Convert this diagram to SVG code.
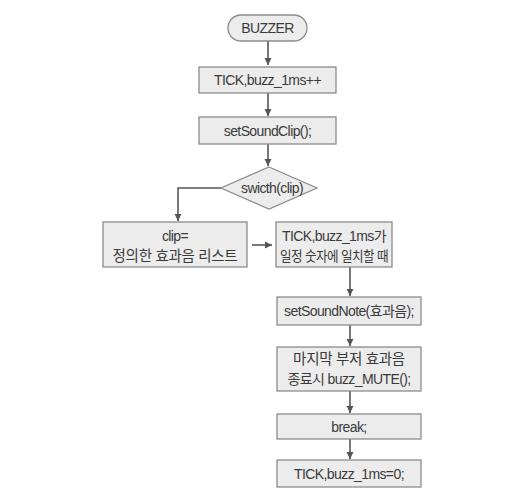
<svg xmlns="http://www.w3.org/2000/svg" width="507" height="500" viewBox="0 0 507 500">
<style>
.box{fill:#ececec;stroke:#8c8c8c;stroke-width:1.3}
.t{font-family:"Liberation Sans","Noto Sans CJK KR",sans-serif;font-size:14px;fill:#3a3a3a;text-anchor:middle;dominant-baseline:central;letter-spacing:-0.6px}
.k{font-size:14.5px;letter-spacing:-0.3px}
.ln{fill:none;stroke:#555;stroke-width:1.6}
</style>
<defs>
<marker id="ah" markerWidth="8" markerHeight="8" refX="7" refY="4" orient="auto" markerUnits="userSpaceOnUse">
<path d="M0,0.5 L7,4 L0,7.5 z" fill="#555"/>
</marker>
</defs>
<rect width="507" height="500" fill="#fff"/>
<g id="connectors">
<line class="ln" x1="268" y1="41" x2="268" y2="65" marker-end="url(#ah)"/>
<line class="ln" x1="268" y1="93" x2="268" y2="116" marker-end="url(#ah)"/>
<line class="ln" x1="268" y1="144" x2="268" y2="166" marker-end="url(#ah)"/>
<polyline class="ln" points="221,188 178,188 178,221" marker-end="url(#ah)"/>
<line class="ln" x1="252" y1="245" x2="272" y2="245" marker-end="url(#ah)"/>
<line class="ln" x1="350" y1="267" x2="350" y2="296" marker-end="url(#ah)"/>
<line class="ln" x1="350" y1="325" x2="350" y2="346" marker-end="url(#ah)"/>
<line class="ln" x1="350" y1="391" x2="350" y2="413" marker-end="url(#ah)"/>
<line class="ln" x1="350" y1="439" x2="350" y2="459" marker-end="url(#ah)"/>
</g>
<g id="buzzer"><rect class="box" x="228" y="15" width="79" height="26" rx="13"/><text class="t" x="267.5" y="28">BUZZER</text></g>
<g id="tick"><rect class="box" x="199" y="67" width="137" height="26"/><text class="t" x="267.5" y="80">TICK,buzz_1ms++</text></g>
<g id="clip"><rect class="box" x="199" y="117" width="137" height="27"/><text class="t" x="267.5" y="130.5">setSoundClip();</text></g>
<g id="switch"><polygon class="box" points="269,167 317,188 269,209 221,188"/><text class="t" x="272" y="188">swicth(clip)</text></g>
<g id="list"><rect class="box" x="103" y="222" width="144" height="45"/><text class="t" x="175" y="236">clip=</text><text class="t k" x="175" y="256">정의한 효과음 리스트</text></g>
<g id="match"><rect class="box" x="276" y="222" width="116" height="45"/><text class="t" x="334" y="236" textLength="104" lengthAdjust="spacingAndGlyphs">TICK,buzz_1ms가</text><text class="t" x="334" y="256" textLength="108" lengthAdjust="spacingAndGlyphs">일정 숫자에 일치할 때</text></g>
<g id="note"><rect class="box" x="277" y="297" width="144" height="28"/><text class="t" x="349" y="311">setSoundNote(효과음);</text></g>
<g id="mute"><rect class="box" x="277" y="347" width="144" height="44"/><text class="t k" x="349" y="359">마지막 부저 효과음</text><text class="t" x="349" y="379">종료시 buzz_MUTE();</text></g>
<g id="break"><rect class="box" x="277" y="414" width="144" height="25"/><text class="t" x="349" y="426.5">break;</text></g>
<g id="reset"><rect class="box" x="277" y="460" width="144" height="27"/><text class="t" x="349" y="473.5">TICK,buzz_1ms=0;</text></g>
</svg>
